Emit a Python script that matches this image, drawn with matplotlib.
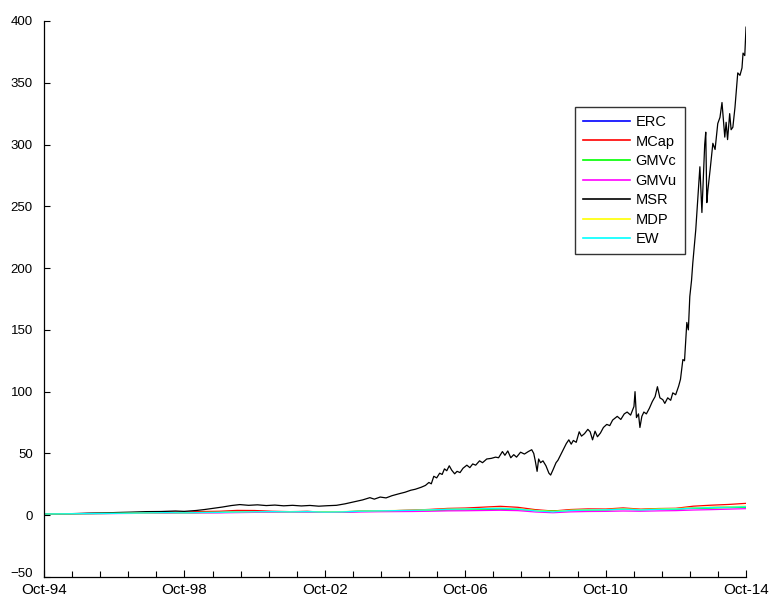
import numpy as np
import pandas as pd
import matplotlib
matplotlib.use("Agg")
import matplotlib.pyplot as plt
import matplotlib.dates as mdates
from matplotlib.transforms import ScaledTranslation

plt.rcParams["font.family"] = ["Liberation Sans", "DejaVu Sans"]

# cumulative wealth of the MSR portfolio (starts at 1)
msr_dates = [
    "1994-10-03", "1995-03-01", "1995-08-01", "1996-01-01", "1996-06-01", "1996-11-01",
    "1997-04-01", "1997-09-01", "1998-02-01", "1998-07-01", "1998-10-01", "1999-02-01",
    "1999-05-01", "1999-08-01", "1999-11-01", "2000-02-01", "2000-05-01", "2000-08-01",
    "2000-11-01", "2001-02-01", "2001-05-01", "2001-08-01", "2001-11-01", "2002-02-01",
    "2002-05-01", "2002-08-01", "2002-11-01", "2003-02-01", "2003-05-01", "2003-08-01",
    "2003-11-01", "2004-01-15", "2004-03-01", "2004-05-01", "2004-07-01", "2004-09-01",
    "2004-11-15", "2005-01-15", "2005-03-15", "2005-05-01", "2005-07-01", "2005-08-15",
    "2005-09-20", "2005-10-15", "2005-11-10", "2005-12-10", "2006-01-10", "2006-02-05",
    "2006-03-01", "2006-03-25", "2006-04-20", "2006-05-15", "2006-06-15", "2006-07-10",
    "2006-08-10", "2006-09-10", "2006-10-20", "2006-11-20", "2006-12-20", "2007-01-20",
    "2007-03-01", "2007-04-01", "2007-05-15", "2007-07-01", "2007-08-15", "2007-09-15",
    "2007-10-25", "2007-11-20", "2007-12-20", "2008-01-20", "2008-02-20", "2008-03-20",
    "2008-05-01", "2008-06-10", "2008-07-20", "2008-08-25", "2008-09-15", "2008-10-01",
    "2008-10-20", "2008-11-05", "2008-11-25", "2008-12-20", "2009-01-20", "2009-02-20",
    "2009-03-10", "2009-04-05", "2009-05-05", "2009-05-25", "2009-06-20", "2009-07-20",
    "2009-08-20", "2009-09-15", "2009-10-10", "2009-11-01", "2009-12-01", "2010-01-01",
    "2010-01-25", "2010-02-25", "2010-04-01", "2010-04-25", "2010-05-20", "2010-06-15",
    "2010-07-10", "2010-08-10", "2010-09-10", "2010-10-15", "2010-11-15", "2010-12-15",
    "2011-02-01", "2011-03-10", "2011-04-15", "2011-05-15", "2011-06-20", "2011-07-25",
    "2011-08-05", "2011-08-20", "2011-09-10", "2011-09-25", "2011-10-15", "2011-11-05",
    "2011-12-01", "2012-01-01", "2012-02-01", "2012-03-01", "2012-03-25", "2012-04-20",
    "2012-05-20", "2012-06-10", "2012-07-10", "2012-08-10", "2012-09-01", "2012-10-01",
    "2012-11-01", "2012-11-20", "2012-12-15", "2013-01-01", "2013-01-25", "2013-02-10",
    "2013-02-25", "2013-03-15", "2013-03-28", "2013-04-15", "2013-04-28", "2013-05-18",
    "2013-06-10", "2013-07-01", "2013-07-30", "2013-08-10", "2013-08-21", "2013-09-01",
    "2013-09-25", "2013-10-23", "2013-11-15", "2013-12-13", "2014-01-05", "2014-01-26",
    "2014-02-24", "2014-03-10", "2014-03-25", "2014-04-16", "2014-05-01", "2014-05-19",
    "2014-06-10", "2014-07-09", "2014-08-01", "2014-08-22", "2014-09-02", "2014-09-20",
    "2014-10-03",
]
msr_values = [
    1.0, 1.1, 1.3, 1.6, 1.8, 2.2,
    2.5, 2.9, 3.0, 3.4, 3.1, 3.8,
    4.6, 5.6, 6.6, 7.8, 8.6, 8.0,
    8.4, 7.8, 8.2, 7.6, 8.0, 7.5,
    7.9, 7.3, 7.7, 8.0, 9.2, 10.8,
    12.4, 14.2, 13.0, 14.7, 14.0, 15.8,
    17.4, 18.6, 20.2, 21.0, 22.6, 24.1,
    26.5, 25.4, 31.5, 30.2, 34.0, 33.0,
    37.5, 36.0, 40.0, 36.5, 33.5, 35.5,
    34.5, 38.0, 40.5, 38.5, 41.5, 40.5,
    44.0, 42.5, 45.5, 46.0, 47.0, 46.5,
    51.5, 48.5, 52.0, 46.5, 49.0, 47.0,
    51.0, 49.5, 51.5, 53.0, 50.0, 44.0,
    35.5, 45.5, 42.5, 44.0, 40.0, 34.0,
    32.5, 37.0, 42.5, 44.5, 48.5, 53.0,
    58.0, 61.0, 57.5, 60.5, 59.0, 67.5,
    64.0, 66.0, 69.5, 67.5, 61.0, 68.0,
    63.5, 66.5, 71.0, 73.5, 72.5, 77.0,
    80.0, 77.5, 82.0, 83.5, 81.0, 88.0,
    100.0, 79.0, 82.0, 71.0, 80.0, 83.5,
    82.0, 86.5, 92.0, 96.0, 104.0, 95.0,
    93.5, 90.5, 95.0, 93.0, 99.0, 97.5,
    104.5, 110.0, 126.0, 125.0, 156.0, 150.0,
    177.0, 190.0, 204.0, 220.0, 231.0, 255.0,
    282.0, 245.0, 300.0, 310.0, 253.0, 263.0,
    280.0, 301.0, 296.0, 317.0, 322.0, 334.0,
    306.0, 318.0, 304.0, 325.0, 312.0, 314.0,
    330.0, 358.0, 356.0, 362.0, 374.0, 372.0,
    395.0,
]

# the other strategies, sampled every six months from Oct-94 to Oct-14
erc_values = [1.0, 1.1, 1.25, 1.4, 1.5, 1.7, 1.9, 2.1, 2.0, 2.3, 2.4, 2.7, 2.9, 2.9,
              2.8, 3.0, 2.7, 2.8, 3.2, 3.5, 3.7, 3.9, 4.2, 4.7, 4.9, 5.2, 5.4, 5.0,
              3.9, 3.1, 4.0, 4.3, 4.5, 5.0, 4.5, 4.9, 5.1, 5.8, 6.2, 6.5, 6.8]
mcap_values = [1.0, 1.1, 1.3, 1.5, 1.6, 1.9, 2.2, 2.6, 2.4, 3.0, 3.2, 3.9, 3.8, 3.2,
               2.9, 3.1, 2.4, 2.6, 3.1, 3.5, 3.7, 4.1, 4.7, 5.5, 5.8, 6.5, 7.2, 6.4,
               4.5, 3.4, 4.6, 5.1, 5.0, 5.9, 4.9, 5.4, 5.6, 7.3, 8.1, 8.7, 9.6]
gmvc_values = [1.0, 1.08, 1.2, 1.33, 1.45, 1.6, 1.8, 2.0, 1.95, 2.15, 2.2, 2.5, 2.7, 2.8,
               2.8, 2.9, 2.7, 2.8, 3.1, 3.3, 3.5, 3.6, 3.9, 4.2, 4.4, 4.7, 4.9, 4.6,
               3.8, 3.3, 3.8, 4.1, 4.3, 4.7, 4.5, 4.8, 5.0, 5.5, 5.8, 6.1, 6.4]
gmvu_values = [1.0, 1.07, 1.15, 1.25, 1.35, 1.45, 1.6, 1.75, 1.7, 1.85, 1.9, 2.1, 2.3, 2.4,
               2.4, 2.5, 2.3, 2.4, 2.6, 2.8, 2.9, 3.0, 3.2, 3.5, 3.6, 3.8, 4.0, 3.7,
               2.6, 2.0, 2.7, 3.0, 3.1, 3.4, 3.2, 3.5, 3.7, 4.2, 4.5, 4.9, 5.3]
mdp_values = [1.0, 1.1, 1.22, 1.36, 1.48, 1.65, 1.85, 2.05, 1.9, 2.2, 2.3, 2.7, 2.9, 2.9,
              2.8, 3.0, 2.7, 2.9, 3.3, 3.6, 3.8, 4.0, 4.4, 4.9, 5.1, 5.4, 5.7, 5.2,
              3.8, 3.0, 4.0, 4.4, 4.6, 5.1, 4.6, 5.0, 5.3, 6.1, 6.5, 6.9, 7.3]
ew_values = [1.0, 1.1, 1.24, 1.38, 1.5, 1.68, 1.9, 2.1, 1.9, 2.2, 2.3, 2.6, 2.8, 2.9,
             2.7, 2.9, 2.5, 2.7, 3.2, 3.5, 3.7, 3.9, 4.3, 4.8, 5.0, 5.3, 5.6, 5.0,
             3.5, 2.7, 3.8, 4.2, 4.4, 4.9, 4.3, 4.7, 5.0, 5.8, 6.2, 6.5, 6.9]

start_date = "1994-10-03"
end_date = "2014-10-03"
semiannual = pd.date_range(start_date, periods=41, freq=pd.DateOffset(months=6))
msr_index = pd.to_datetime(msr_dates)

fig = plt.figure(figsize=(7.71, 5.96), dpi=100)
ax = fig.add_axes([0.0571, 0.0319, 0.9105, 0.9329])

lw = 0.9
ax.plot(semiannual, erc_values, color=(0, 0, 1), lw=lw, label="ERC")
ax.plot(semiannual, mcap_values, color=(1, 0, 0), lw=lw, label="MCap")
ax.plot(semiannual, gmvc_values, color=(0, 1, 0), lw=lw, label="GMVc")
ax.plot(semiannual, gmvu_values, color=(1, 0, 1), lw=lw, label="GMVu")
ax.plot(msr_index, msr_values, color="black", lw=lw, label="MSR")
ax.plot(semiannual, mdp_values, color=(1, 1, 0), lw=lw, label="MDP")
ax.plot(semiannual, ew_values, color=(0, 1, 1), lw=lw, label="EW")

x0 = mdates.date2num(pd.Timestamp(start_date))
x1 = mdates.date2num(pd.Timestamp(end_date))
ax.set_xlim(x0, x1)
ax.set_ylim(-50, 400)

# labelled ticks every four years, plain ticks in between
ticks = np.linspace(x0, x1, 26)
ax.set_xticks(ticks[::5])
ax.set_xticks(ticks, minor=True)
ax.xaxis.set_major_formatter(mdates.DateFormatter("%b-%y"))
ax.set_yticks(np.arange(-50, 401, 50))

ax.tick_params(axis="both", which="both", direction="in", width=0.8)
ax.tick_params(axis="x", which="major", length=5, pad=4, labelsize=11)
ax.tick_params(axis="x", which="minor", length=4)
ax.tick_params(axis="y", which="major", length=4, pad=8, labelsize=9.5)

# lift the lowest y label a little so it clears the first date label
low = ax.get_yticklabels()[0]
low.set_transform(low.get_transform() + ScaledTranslation(0, 3 / 72, fig.dpi_scale_trans))

for side in ["top", "right"]:
    ax.spines[side].set_visible(False)
for side in ["left", "bottom"]:
    ax.spines[side].set_linewidth(0.9)

leg = ax.legend(loc="upper left", bbox_to_anchor=(0.7564, 0.8453), borderaxespad=0,
                fontsize=10.5, frameon=True, fancybox=False, handlelength=3.2,
                handletextpad=0.4, labelspacing=0.38, borderpad=0.55)
leg.get_frame().set_edgecolor("black")
leg.get_frame().set_linewidth(1.0)
for line in leg.get_lines():
    line.set_linewidth(1.2)

fig.savefig("out.png", dpi=100)
